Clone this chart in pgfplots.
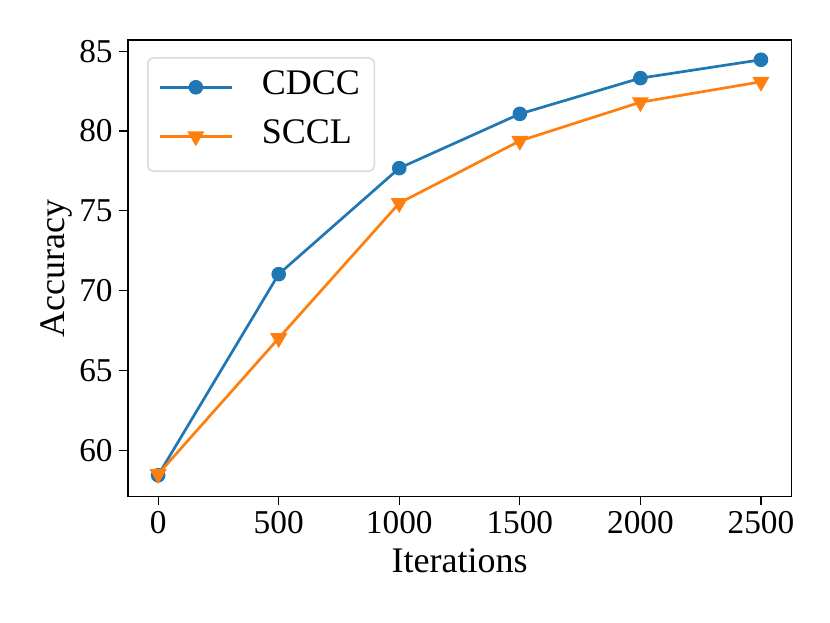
\documentclass[border=0pt]{standalone}
\usepackage{fontspec}
\setmainfont{Liberation Serif}
\usepackage{pgfplots}
\pgfplotsset{compat=1.18}
\definecolor{tabblue}{HTML}{1F77B4}
\definecolor{taborange}{HTML}{FF7F0E}
\begin{document}
\begin{tikzpicture}
\begin{axis}[
  name=ax,
  scale only axis,
  width=368.3pt, height=253.4pt,
  xmin=-125, xmax=2625,
  ymin=57.12, ymax=85.7,
  xtick={0,500,1000,1500,2000,2500},
  ytick={60,65,70,75,80,85},
  xticklabel={\pgfmathprintnumber[assume math mode=true,1000 sep={}]{\tick}},
  yticklabel={\pgfmathprintnumber[assume math mode=true]{\tick}},
  tick align=outside,
  xtick pos=bottom, ytick pos=left,
  major tick length=5pt,
  tick style={black, line width=0.6pt},
  axis line style={line width=0.6pt},
  tick label style={font=\fontsize{18.5}{20}\selectfont},
  label style={font=\fontsize{20}{22}\selectfont},
  xlabel={Iterations},
  ylabel={Accuracy},
  xlabel style={yshift=-1pt},
  ylabel style={yshift=-3pt},
  legend style={at={(0.0288,0.9625)}, anchor=north west,
    draw=black!15, rounded corners=3pt, line width=0.8pt,
    font=\fontsize{20}{22}\selectfont,
    inner xsep=6pt, inner ysep=5pt,
    nodes={text depth=8.5pt},
    row sep=1.5pt},
  legend cell align=left,
  legend image code/.code={
    \draw[#1, mark repeat=2, mark phase=2, yshift=1.5pt] plot coordinates {(0cm,0cm) (0.7cm,0cm) (1.4cm,0cm)};
  },
]
\addplot[tabblue, line width=1.5pt, mark=*, mark size=3.3pt, mark options={solid, fill=tabblue, draw=tabblue}]
  coordinates {(0,58.43) (500,71.03) (1000,77.67) (1500,81.07) (2000,83.31) (2500,84.46)};
\addlegendentry{\hspace{14pt}CDCC}
\addplot[taborange, line width=1.5pt, mark=triangle*, mark size=4pt, mark options={solid, rotate=180, fill=taborange, draw=taborange}]
  coordinates {(0,58.5) (500,67.02) (1000,75.48) (1500,79.38) (2000,81.8) (2500,83.08)};
\addlegendentry{\hspace{14pt}SCCL}
\end{axis}
\path ([xshift=-71.1pt,yshift=-70.4pt]ax.south west) rectangle ([xshift=21.6pt,yshift=22.2pt]ax.north east);
\end{tikzpicture}
\end{document}
